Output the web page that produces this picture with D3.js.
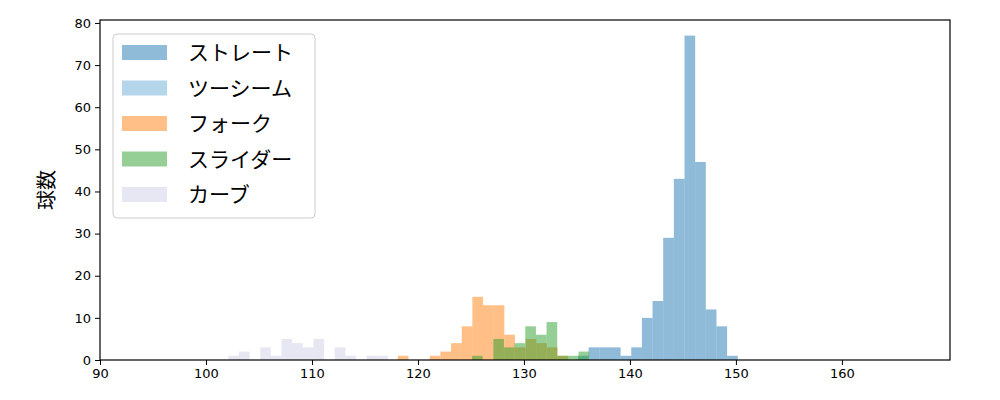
<!DOCTYPE html>
<html>
<head>
<meta charset="utf-8">
<script src="https://cdn.jsdelivr.net/npm/d3@7"></script>
<style>
body { margin: 0; background: #fff; font-family: "Noto Sans CJK JP", "DejaVu Sans", sans-serif; }
</style>
</head>
<body>
<svg id="chart" width="1000" height="400"></svg>
<script>
// histogram bins: start edge, bin width, counts per bin
const seriesNames = ['ストレート', 'ツーシーム', 'フォーク', 'スライダー', 'カーブ'];
const seriesColors = ['#1f77b4', '#6baed6', '#ff7f0e', '#2ca02c', '#d0d0e8'];
const straightStart = 135.1, straightCounts = [1, 3, 3, 3, 1, 3, 10, 14, 29, 43, 77, 47, 12, 8, 1];
const twoSeamStart = 0, twoSeamCounts = [];
const forkStart = 118.1, forkCounts = [1, 0, 0, 1, 2, 4, 8, 15, 13, 13, 6, 3, 5, 4, 3, 1];
const sliderStart = 125.1, sliderCounts = [1, 0, 5, 3, 4, 8, 6, 9, 1, 1, 2];
const curveStart = 102.1, curveCounts = [1, 2, 0, 3, 1, 5, 4, 3, 5, 0, 3, 1, 0, 1, 1];
const binWidth = 1.005;
const xTicks = [90, 100, 110, 120, 130, 140, 150, 160];
const yTicks = [0, 10, 20, 30, 40, 50, 60, 70, 80];

const series = [
    { start: straightStart, counts: straightCounts },
    { start: twoSeamStart, counts: twoSeamCounts },
    { start: forkStart, counts: forkCounts },
    { start: sliderStart, counts: sliderCounts },
    { start: curveStart, counts: curveCounts }
];

const margin = { left: 100, right: 50, top: 20, bottom: 40 };
const W = 1000, H = 400;
const svg = d3.select('#chart');

const x = d3.scale = d3.scaleLinear().domain([90, 170.2]).range([margin.left, W - margin.right]);
const y = d3.scaleLinear().domain([0, 80.7]).range([H - margin.bottom, margin.top]);

// bars
series.forEach((s, i) => {
    svg.append('g').selectAll('rect')
        .data(s.counts.map((c, k) => ({ x0: s.start + k * binWidth, c })).filter(d => d.c > 0))
        .join('rect')
        .attr('x', d => x(d.x0))
        .attr('width', d => x(d.x0 + binWidth) - x(d.x0))
        .attr('y', d => y(d.c))
        .attr('height', d => y(0) - y(d.c))
        .attr('fill', seriesColors[i])
        .attr('fill-opacity', i === 4 ? 0.5 : 0.5);
});

// axes
const xAxis = svg.append('g').attr('transform', `translate(0,${H - margin.bottom})`)
    .call(d3.axisBottom(x).tickValues(xTicks).tickSize(5).tickPadding(4));
const yAxis = svg.append('g').attr('transform', `translate(${margin.left},0)`)
    .call(d3.axisLeft(y).tickValues(yTicks).tickSize(5).tickPadding(4));
[xAxis, yAxis].forEach(a => {
    a.selectAll('text').attr('font-size', 13).attr('fill', '#000')
        .attr('font-family', '"DejaVu Sans", sans-serif');
    a.selectAll('line').attr('stroke', '#000');
    a.select('.domain').remove();
});

svg.append('rect')
    .attr('x', margin.left).attr('y', margin.top)
    .attr('width', W - margin.left - margin.right)
    .attr('height', H - margin.top - margin.bottom)
    .attr('fill', 'none').attr('stroke', '#000').attr('stroke-width', 1.2);

svg.append('text')
    .attr('transform', `translate(54,${(margin.top + H - margin.bottom) / 2}) rotate(-90)`)
    .attr('text-anchor', 'middle')
    .attr('font-size', 20)
    .text('球数');

// legend
const lg = svg.append('g');
lg.append('rect').attr('x', 113).attr('y', 34).attr('width', 202).attr('height', 184)
    .attr('rx', 4).attr('fill', '#fff').attr('fill-opacity', 0.8)
    .attr('stroke', '#ccc');
seriesNames.forEach((n, i) => {
    const yy = 52 + i * 35.5;
    lg.append('rect').attr('x', 122).attr('y', yy - 7).attr('width', 45).attr('height', 15)
        .attr('fill', seriesColors[i]).attr('fill-opacity', 0.5);
    lg.append('text').attr('x', 188).attr('y', yy + 8).attr('font-size', 21).text(n);
});
</script>
</body>
</html>
